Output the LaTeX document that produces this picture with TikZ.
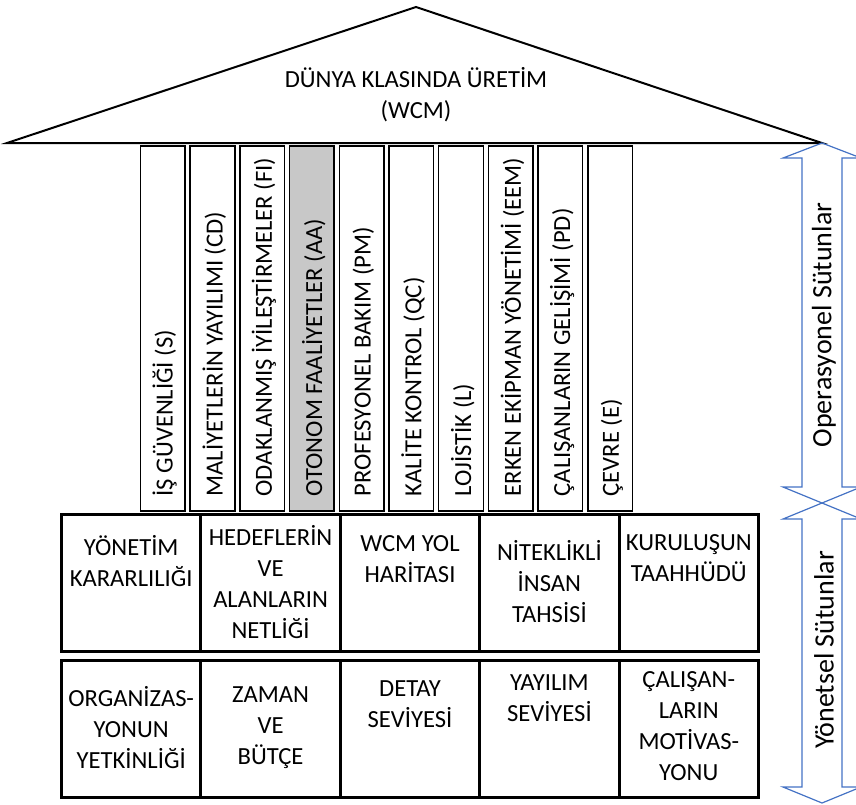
\documentclass[tikz,border=0pt]{standalone}
\usepackage{fontspec}
\setmainfont{Carlito}
\usetikzlibrary{positioning}

\definecolor{pillargray}{RGB}{200,200,200}
\definecolor{arrowblue}{RGB}{68,114,196}

\tikzset{
    pillar/.style={draw, rectangle, line width=0.75pt, minimum width=22.3pt, minimum height=182.7pt, inner sep=0pt, outer sep=0pt, anchor=north west},
    pillartext/.style={rotate=90, anchor=west, inner sep=0pt, font=\fontsize{12.3}{15.5}\selectfont},
    cell/.style={draw, rectangle, line width=1.5pt, minimum width=69.7pt, minimum height=68.7pt, inner sep=0pt, outer sep=0pt},
    celltext/.style={align=center, inner sep=0pt, font=\fontsize{12.3}{15.5}\selectfont, execute at begin node=\strut},
    sidetext/.style={rotate=90, inner sep=0pt, font=\fontsize{14}{17}\selectfont},
    bluearrow/.style={draw=arrowblue, line width=0.6pt, line join=miter}
}

\begin{document}
\begin{tikzpicture}[x=0.5pt, y=-0.5pt]
                \clip (0,0) rectangle (856,804);

                % roof
                \coordinate (roofL) at (7,143);
                \coordinate (roofT) at (416,7);
                \coordinate (roofR) at (822,143);
                \draw[line width=1pt, line join=miter] (roofL) -- (roofT) -- (roofR) -- cycle;
                \node[celltext, anchor=north] (wcm) at (416,67) {DÜNYA KLASINDA ÜRETİM\\(WCM)};

                % operational pillars
                \foreach \txt/\col [count=\i] in {İŞ GÜVENLİĞİ (S)/white, MALİYETLERİN YAYILIMI (CD)/white, ODAKLANMIŞ İYİLEŞTİRMELER (FI)/white, OTONOM FAALİYETLER (AA)/pillargray, PROFESYONEL BAKIM (PM)/white, KALİTE KONTROL (QC)/white, LOJİSTİK (L)/white, ERKEN EKİPMAN YÖNETİMİ (EEM)/white, ÇALIŞANLARIN GELİŞİMİ (PD)/white, ÇEVRE (E)/white}
                {
                    \node[pillar, fill=\col] (p\i) at ({140.5+49.7*(\i-1)},145.8) {};
                    \node[pillartext] (t\i) at ([xshift=0.9pt, yshift=7.25pt]p\i.south) {\txt};
                }

                % managerial pillars
                \node[cell, anchor=north west] (c1) at (61.5,514.3) {};
                \node[cell, right=0pt of c1] (c2) {};
                \node[cell, right=0pt of c2] (c3) {};
                \node[cell, right=0pt of c3] (c4) {};
                \node[cell, right=0pt of c4] (c5) {};
                \node[cell, below=4.15pt of c1] (d1) {};
                \node[cell, right=0pt of d1] (d2) {};
                \node[cell, right=0pt of d2] (d3) {};
                \node[cell, right=0pt of d3] (d4) {};
                \node[cell, right=0pt of d4] (d5) {};

                \node[celltext, below=10.5pt of c1.north] (yk) {YÖNETİM\\KARARLILIĞI};
                \node[celltext, below=5.5pt of c2.north] (hn) {HEDEFLERİN\\VE\\ALANLARIN\\NETLİĞİ};
                \node[celltext, below=10.5pt of c3.north] (yh) {WCM YOL\\HARİTASI};
                \node[celltext, below=13pt of c4.north] (it) {NİTEKLİKLİ\\İNSAN\\TAHSİSİ};
                \node[celltext, below=10pt of c5.north] (kt) {KURULUŞUN\\TAAHHÜDÜ};
                \node[celltext, below=13.1pt of d1.north] (oy) {ORGANİZAS-\\YONUN\\YETKİNLİĞİ};
                \node[celltext, below=13.1pt of d2.north] (zb) {ZAMAN\\VE\\BÜTÇE};
                \node[celltext, below=10.1pt of d3.north] (ds) {DETAY\\SEVİYESİ};
                \node[celltext, below=7.1pt of d4.north] (ys) {YAYILIM\\SEVİYESİ};
                \node[celltext, below=5.6pt of d5.north] (cm) {ÇALIŞAN-\\LARIN\\MOTİVAS-\\YONU};

                % side arrows
                \draw[bluearrow] (822,143) -- (783,158) -- (802,158) -- (802,487) -- (783,487) -- (822,503) -- (861,487) -- (842,487) -- (842,158) -- (861,158) -- cycle;
                \draw[bluearrow] (822,503) -- (783,519) -- (802,519) -- (802,787) -- (783,787) -- (822,803) -- (861,787) -- (842,787) -- (842,519) -- (861,519) -- cycle;
                \node[sidetext] (ops) at (824,325) {Operasyonel Sütunlar};
                \node[sidetext] (yon) at (824,650) {Yönetsel Sütunlar};
\end{tikzpicture}
\end{document}
